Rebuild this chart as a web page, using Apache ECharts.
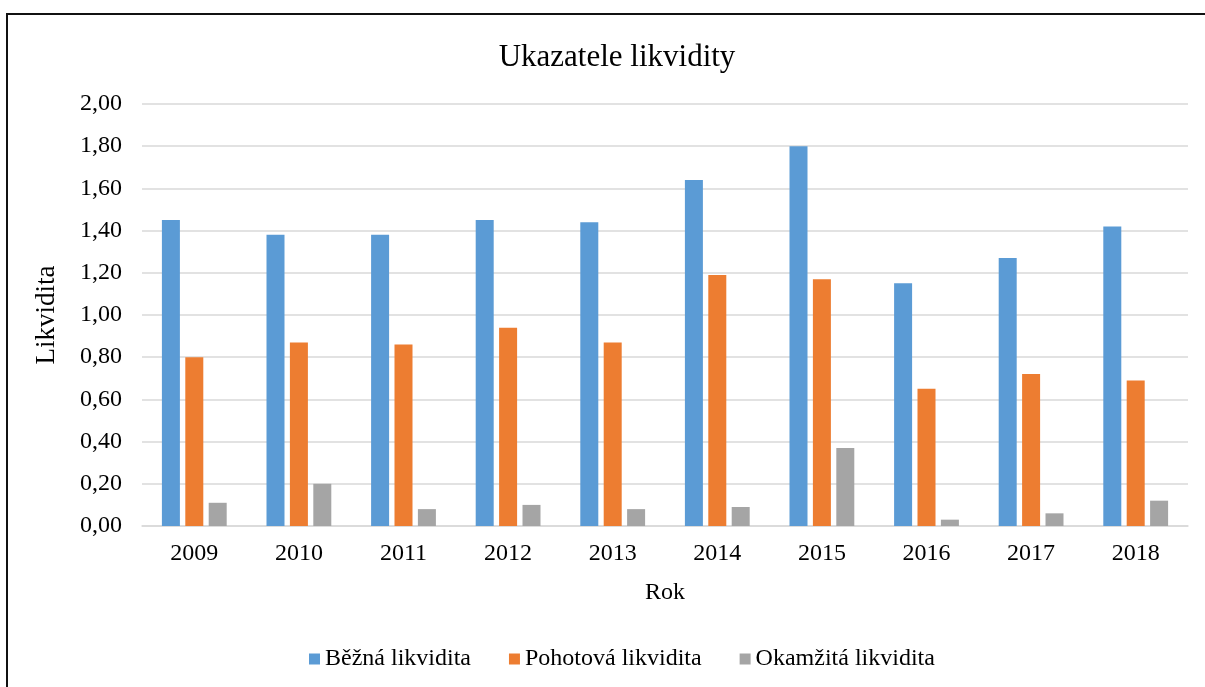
<!DOCTYPE html>
<html>
<head>
<meta charset="utf-8">
<script src="https://cdn.jsdelivr.net/npm/echarts@6/dist/echarts.min.js"></script>
<style>
  html, body { margin: 0; padding: 0; background: #fff; }
  #chart { width: 1205px; height: 687px; }
</style>
</head>
<body>
<div id="chart"></div>
<script>
const years = ["2009", "2010", "2011", "2012", "2013", "2014", "2015", "2016", "2017", "2018"];
const bezna = [1.45, 1.38, 1.38, 1.45, 1.44, 1.64, 1.80, 1.15, 1.27, 1.42];
const pohotova = [0.80, 0.87, 0.86, 0.94, 0.87, 1.19, 1.17, 0.65, 0.72, 0.69];
const okamzita = [0.11, 0.20, 0.08, 0.10, 0.08, 0.09, 0.37, 0.03, 0.06, 0.12];

const font = '"Liberation Serif", "Times New Roman", serif';

const myChart = echarts.init(document.getElementById("chart"));

function bar(name, data, color) {
  return {
    name: name,
    type: "bar",
    data: data,
    barWidth: 18,
    barGap: "30%",
    itemStyle: { color: color }
  };
}

const option = {
  animation: false,
  textStyle: { fontFamily: font, color: "#000" },
  color: ["#5B9BD5", "#ED7D31", "#A5A5A5"],
  title: {
    text: "Ukazatele likvidity",
    left: 612,
    textAlign: "center",
    top: 37,
    textStyle: { fontFamily: font, fontSize: 31, fontWeight: "normal", color: "#000" }
  },
  legend: {
    bottom: 11,
    left: 304,
    itemWidth: 11,
    itemHeight: 11,
    itemGap: 38,
    icon: "rect",
    textStyle: { fontFamily: font, fontSize: 24, color: "#000" },
    data: ["Běžná likvidita", "Pohotová likvidita", "Okamžitá likvidita"]
  },
  grid: {
    left: 142,
    right: 17,
    top: 104,
    bottom: 161
  },
  xAxis: {
    type: "category",
    data: years,
    name: "Rok",
    nameLocation: "middle",
    nameGap: 55,
    nameTextStyle: { fontFamily: font, fontSize: 24, color: "#000" },
    axisLine: { lineStyle: { color: "#d9d9d9", width: 1.5 } },
    axisTick: { show: false },
    axisLabel: { fontFamily: font, fontSize: 24, color: "#000", margin: 16 }
  },
  yAxis: {
    type: "value",
    min: 0,
    max: 2,
    interval: 0.2,
    name: "Likvidita",
    nameLocation: "middle",
    nameGap: 82,
    nameTextStyle: { fontFamily: font, fontSize: 27, color: "#000" },
    axisLine: { show: false },
    axisTick: { show: false },
    splitLine: { lineStyle: { color: "#d9d9d9", width: 1.5 } },
    axisLabel: {
      fontFamily: font,
      fontSize: 24,
      color: "#000",
      margin: 20,
      formatter: function (v) { return v.toFixed(2).replace(".", ","); }
    }
  },
  graphic: [
    {
      type: "rect",
      shape: { x: 7, y: 14, width: 1400, height: 900 },
      style: { fill: "none", stroke: "#111", lineWidth: 2 },
      silent: true
    }
  ],
  series: [
    bar("Běžná likvidita", bezna, "#5B9BD5"),
    bar("Pohotová likvidita", pohotova, "#ED7D31"),
    bar("Okamžitá likvidita", okamzita, "#A5A5A5")
  ]
};

myChart.setOption(option);
</script>
</body>
</html>
